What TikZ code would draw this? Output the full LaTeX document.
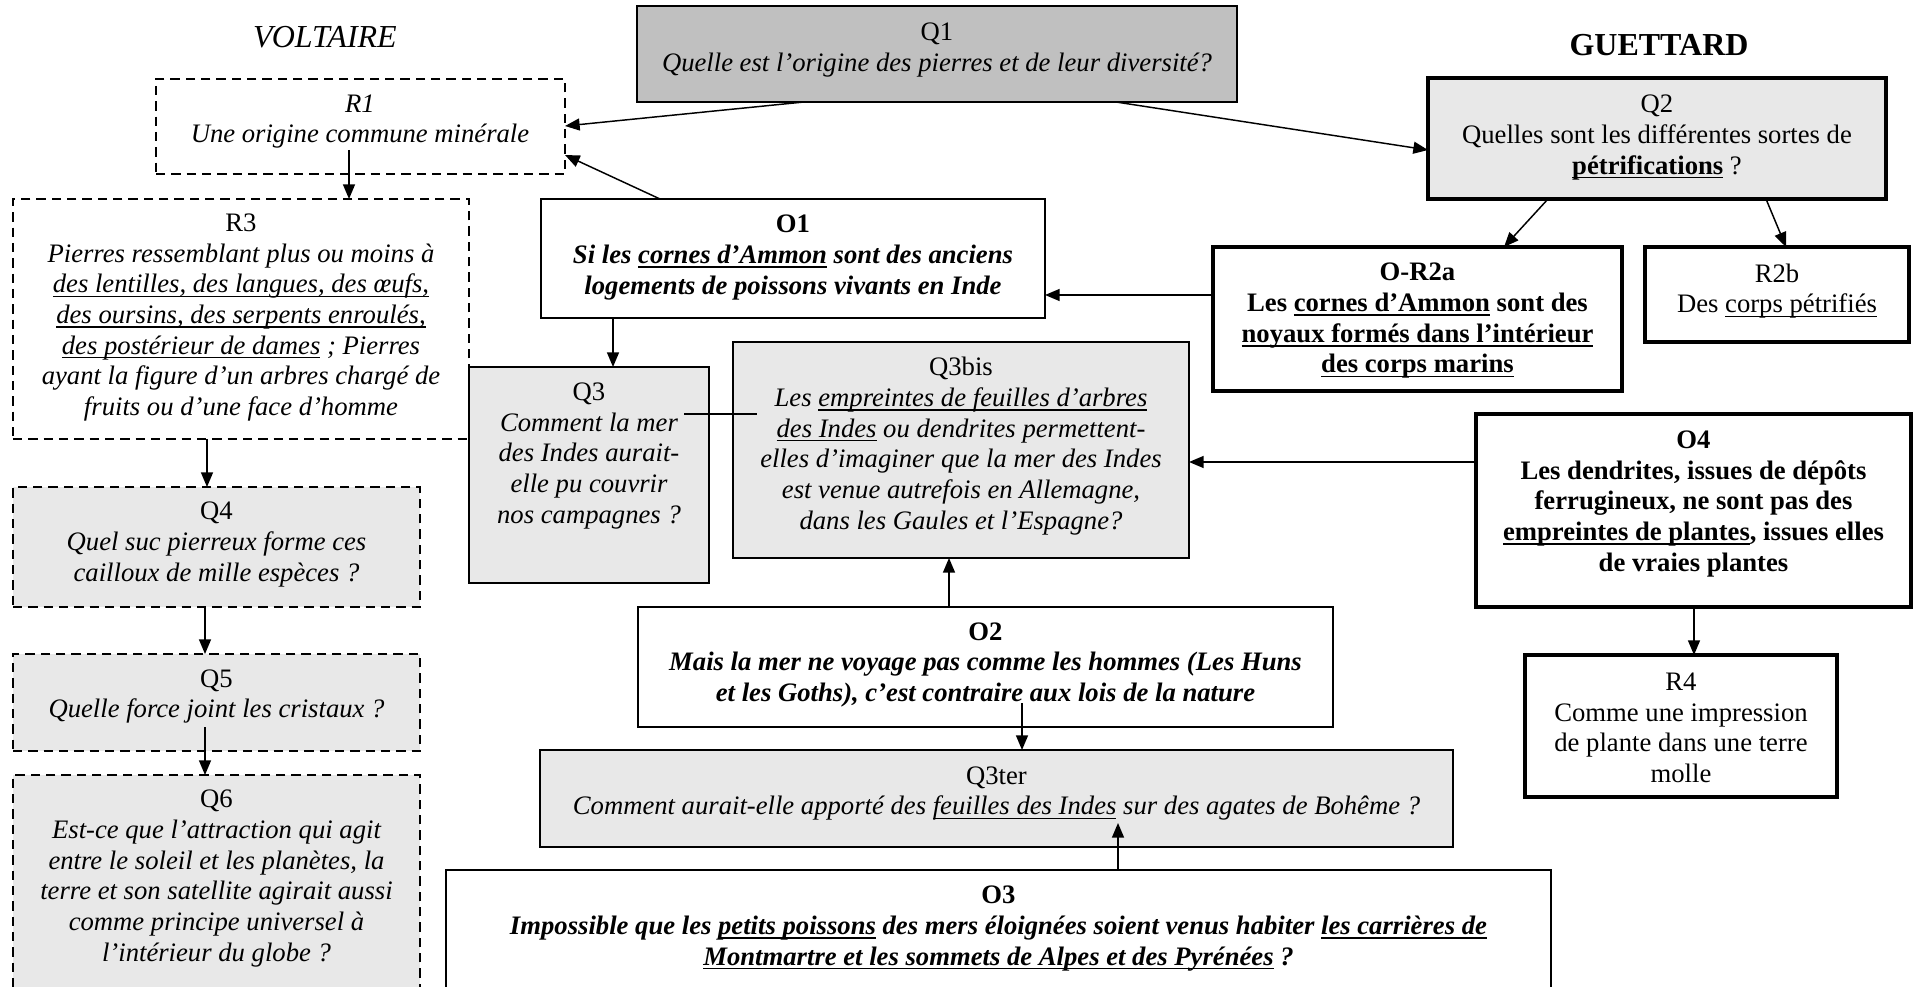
\documentclass[tikz,border=0pt]{standalone}
\usepackage{fontspec}
\setmainfont{Liberation Serif}
\newcommand{\usl}[1]{\setbox0\hbox{#1}\rlap{\rule[-3.2pt]{\wd0}{1.1pt}}\box0\relax}
\usetikzlibrary{arrows.meta,calc,fit}
\definecolor{qdark}{HTML}{C0C0C0}
\definecolor{qlight}{HTML}{E8E8E8}
\begin{document}
\begin{tikzpicture}[x=0.75pt,y=-0.75pt,
  frame/.style={draw=black, inner sep=0pt, outer sep=0pt, line width=1.5pt},
  dbox/.style={frame, line width=1.2pt, dash pattern=on 7pt off 4.5pt},
  tbox/.style={frame, line width=3.5pt},
  txt/.style={inner sep=0pt, align=center, font=\fontsize{20}{23}\selectfont},
  ittxt/.style={txt, font=\fontsize{20}{23}\selectfont\itshape},
  bitxt/.style={txt, font=\fontsize{20}{23}\selectfont\bfseries\itshape},
  btxt/.style={txt, font=\fontsize{20}{23}\selectfont\bfseries},
  conn/.style={line width=1.1pt, -{Triangle[length=11pt,width=9pt]}},
  plain/.style={line width=1.1pt},
  title/.style={inner sep=0pt, font=\fontsize{24}{28}\selectfont}]
\useasboundingbox (0,0) rectangle (1917,987);
\fill[white] (0,0) rectangle (1917,987);
\clip (0,0) rectangle (1917,987);

% titles
\node[title] (voltaire) at (325,37) {\itshape VOLTAIRE};
\node[title] (guettard) at (1659,45) {\bfseries GUETTARD};

% boxes
\node[dbox, fill=white, fit={(156,79)(565,174)}] (R1) {};
\node[dbox, fill=white, fit={(13,199)(469,439)}] (R3) {};
\node[dbox, fill=qlight, fit={(13,487)(420,607)}] (Q4) {};
\node[dbox, fill=qlight, fit={(13,654)(420,751)}] (Q5) {};
\node[dbox, fill=qlight, fit={(13,775)(420,1000)}] (Q6) {};
\node[frame, fill=qdark, fit={(637,6)(1237,102)}] (Q1) {};
\node[frame, fill=white, fit={(541,199)(1045,318)}] (O1) {};
\node[frame, fill=qlight, fit={(469,367)(709,583)}] (Q3) {};
\node[frame, fill=qlight, fit={(733,342)(1189,558)}] (Q3bis) {};
\node[frame, fill=white, fit={(638,607)(1333,727)}] (O2) {};
\node[frame, fill=qlight, fit={(540,750)(1453,847)}] (Q3ter) {};
\node[frame, fill=white, fit={(446,870)(1551,1000)}] (O3) {};
\node[tbox, fill=qlight, fit={(1428,78)(1886,199)}] (Q2) {};
\node[tbox, fill=white, fit={(1213,247)(1622,391)}] (OR2a) {};
\node[tbox, fill=white, fit={(1645,247)(1909,342)}] (R2b) {};
\node[tbox, fill=white, fit={(1476,414)(1911,607)}] (O4) {};
\node[tbox, fill=white, fit={(1525,655)(1837,797)}] (R4) {};

% texts
\node[ittxt] (R1t) at (360,121.5) {R1\\ Une origine commune minérale};
\node[ittxt] (R3t) at (241,317.5) {\upshape R3\\ Pierres ressemblant plus ou moins à\\ \usl{des lentilles, des langues, des œufs,}\\ \usl{des oursins, des serpents enroulés,}\\ \usl{des postérieur de dames} ; Pierres\\ ayant la figure d’un arbres chargé de\\ fruits ou d’une face d’homme};
\node[ittxt] (Q4t) at (216.5,544.5) {\upshape Q4\\ Quel suc pierreux forme ces\\ cailloux de mille espèces ?};
\node[ittxt] (Q5t) at (216.5,696.5) {\upshape Q5\\ Quelle force joint les cristaux ?};
\node[ittxt] (Q6t) at (216.5,878.5) {\upshape Q6\\ Est-ce que l’attraction qui agit\\ entre le soleil et les planètes, la\\ terre et son satellite agirait aussi\\ comme principe universel à\\ l’intérieur du globe ?};
\node[ittxt] (Q1t) at (937,50) {\upshape Q1\\ Quelle est l’origine des pierres et de leur diversité?};
\node[bitxt] (O1t) at (793,257.5) {\upshape O1\\ Si les \usl{cornes d’Ammon} sont des anciens\\ logements de poissons vivants en Inde};
\node[ittxt] (Q3t) at (589,456) {\upshape Q3\\ Comment la mer\\ des Indes aurait-\\ elle pu couvrir\\ nos campagnes ?};
\node[ittxt] (Q3bist) at (961,446) {\upshape Q3bis\\ Les \usl{empreintes de feuilles d’arbres}\\ \usl{des Indes} ou dendrites permettent-\\ elles d’imaginer que la mer des Indes\\ est venue autrefois en Allemagne,\\ dans les Gaules et l’Espagne?};
\node[bitxt] (O2t) at (985.5,665) {\upshape O2\\ Mais la mer ne voyage pas comme les hommes (Les Huns\\ et les Goths), c’est contraire aux lois de la nature};
\node[ittxt] (Q3tert) at (996.5,793.5) {\upshape Q3ter\\ Comment aurait-elle apporté des \usl{feuilles des Indes} sur des agates de Bohême ?};
\node[bitxt] (O3t) at (998.5,928.5) {\upshape O3\\ Impossible que les \usl{petits poissons} des mers éloignées soient venus habiter \usl{les carrières de}\\ \usl{Montmartre et les sommets de Alpes et des Pyrénées} ?};
\node[txt] (Q2t) at (1657,137.5) {Q2\\ Quelles sont les différentes sortes de\\ \textbf{\usl{pétrifications}} ?};
\node[btxt] (OR2at) at (1417.5,321) {O-R2a\\ Les \usl{cornes d’Ammon} sont des\\ \usl{noyaux formés dans l’intérieur}\\ \usl{des corps marins}};
\node[txt] (R2bt) at (1777,291) {R2b\\ Des \usl{corps pétrifiés}};
\node[btxt] (O4t) at (1693.5,504) {O4\\ Les dendrites, issues de dépôts\\ ferrugineux, ne sont pas des\\ \usl{empreintes de plantes}, issues elles\\ de vraies plantes};
\node[txt] (R4t) at (1681,728) {R4\\ Comme une impression\\ de plante dans une terre\\ molle};

% connectors
\draw[conn] ($(Q1.south west)+(167,0)$) -- ($(R1.north east)+(0,47)$);
\draw[conn] ($(Q1.south west)+(479,0)$) -- ($(Q2.north west)+(0,72)$);
\draw[conn] ($(O1.north west)+(119,0)$) -- ($(R1.north east)+(0,76)$);
\draw[conn] ($(R1.north west)+(193,71)$) -- ($(R3.north west)+(336,0)$);
\draw[conn] ($(R3.south west)+(194,0)$) -- ($(Q4.north west)+(194,0)$);
\draw[conn] ($(Q4.south west)+(192,0)$) -- ($(Q5.north west)+(192,0)$);
\draw[conn] ($(Q5.north west)+(192,73)$) -- ($(Q6.north west)+(192,0)$);
\draw[conn] ($(O1.south west)+(72,0)$) -- ($(Q3.north west)+(144,0)$);
\draw[conn] ($(OR2a.north west)+(0,48)$) -- ($(O1.north east)+(0,96)$);
\draw[conn] ($(Q2.south west)+(120,0)$) -- ($(OR2a.north west)+(291,0)$);
\draw[conn] ($(Q2.south west)+(338,0)$) -- ($(R2b.north west)+(141,0)$);
\draw[conn] ($(O4.north west)+(0,48)$) -- ($(Q3bis.north east)+(0,120)$);
\draw[conn] ($(O4.south west)+(218,0)$) -- ($(R4.north west)+(169,0)$);
\draw[conn] ($(O2.north west)+(311,0)$) -- ($(Q3bis.south west)+(216,0)$);
\draw[conn] ($(O2.north west)+(384,96)$) -- ($(Q3ter.north west)+(482,0)$);
\draw[conn] ($(O3.north west)+(672,0)$) -- ($(Q3ter.north west)+(578,73)$);
\draw[plain] ($(Q3.north west)+(215,47)$) -- ($(Q3bis.north west)+(24,72)$);
\end{tikzpicture}
\end{document}
